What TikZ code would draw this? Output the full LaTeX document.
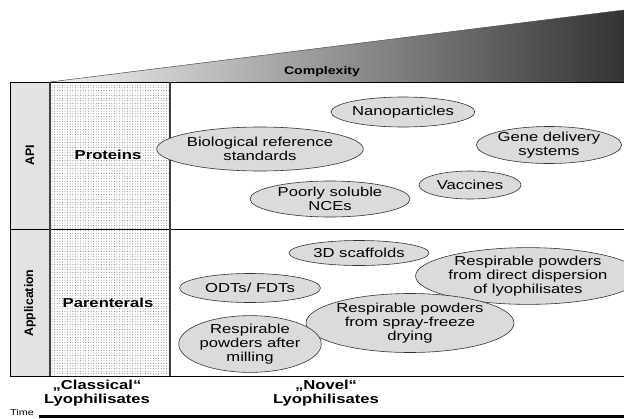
\documentclass[tikz,border=0pt]{standalone}
\usepackage{fontspec}
\setmainfont{Liberation Sans}[FakeStretch=1.28]
\newfontfamily\plainsans{Liberation Sans}
\usetikzlibrary{shapes.geometric,patterns.meta}

\begin{document}
\begin{tikzpicture}[x=1pt,y=-1pt,
    item/.style={ellipse, draw=black!80, fill=gray!28, line width=0.6pt, inner sep=0pt,
      align=center, font=\fontsize{13}{14}\selectfont},
    head/.style={align=center, font=\fontsize{13}{14}\selectfont\bfseries},
    side/.style={rotate=90, font=\plainsans\fontsize{12.3}{14}\selectfont\bfseries}]
        \useasboundingbox (0,0) rectangle (624,418);

        % complexity wedge
        \shade[left color=gray!10, right color=black!80] (50,82) -- (624,10) -- (624,82) -- cycle;
        \draw[black!70, line width=0.5pt] (50,82) -- (624,10);
        \node[head, font=\fontsize{11}{13}\selectfont\bfseries] (complexity) at (322,72) {Complexity};

        % columns
        \fill[gray!22] (10,82) rectangle (50,376);
        \fill[pattern={Dots[distance=2.6pt, radius=0.45pt]}, pattern color=black!60] (50,82) rectangle (170,376);
        \draw[line width=0.8pt] (10,82) rectangle (624,376);
        \draw[line width=0.8pt] (10,229) -- (624,229);
        \draw[line width=1.2pt, black!75] (50,82) -- (50,376) (170,82) -- (170,376);

        % rows
        \node[side] (api) at (30,155) {API};
        \node[side] (application) at (30,303) {Application};
        \node[head] (proteins) at (108,155) {Proteins};
        \node[head] (parenterals) at (108,303) {Parenterals};

        % API
        \node[item, minimum width=120, minimum height=30] (nano) at (403,112) {Nanoparticles};
        \node[item, minimum width=180, minimum height=44] (bio) at (260,149) {Biological reference\\standards};
        \node[item, minimum width=141, minimum height=37] (gene) at (549,145) {Gene delivery\\systems};
        \node[item, minimum width=160, minimum height=36] (nce) at (330,199) {Poorly soluble\\NCEs};
        \node[item, minimum width=102, minimum height=28] (vaccines) at (470,185) {Vaccines};

        % application
        \node[item, minimum width=140, minimum height=25] (scaffolds) at (359,253) {3D scaffolds};
        \node[item, minimum width=190, minimum height=52] (direct) at (528,276) {Respirable powders\\from direct dispersion\\of lyophilisates};
        \node[item, minimum width=141, minimum height=29] (odt) at (250,288) {ODTs/ FDTs};
        \node[item, minimum width=203, minimum height=59] (sfd) at (410,323) {Respirable powders\\from spray-freeze\\drying};
        \node[item, minimum width=136, minimum height=48] (milling) at (250,344) {Respirable\\powders after\\milling};

        % labels
        \node[head] (classical) at (97,393) {„Classical“\\Lyophilisates};
        \node[head] (novel) at (326,393) {„Novel“\\Lyophilisates};

        % time
        \node[font=\fontsize{8.5}{9}\selectfont] (time) at (22,412) {Time};
        \draw[line width=3pt] (time.east) ++(2,4) coordinate (t0) -- (624,416);
    \end{tikzpicture}
\end{document}
